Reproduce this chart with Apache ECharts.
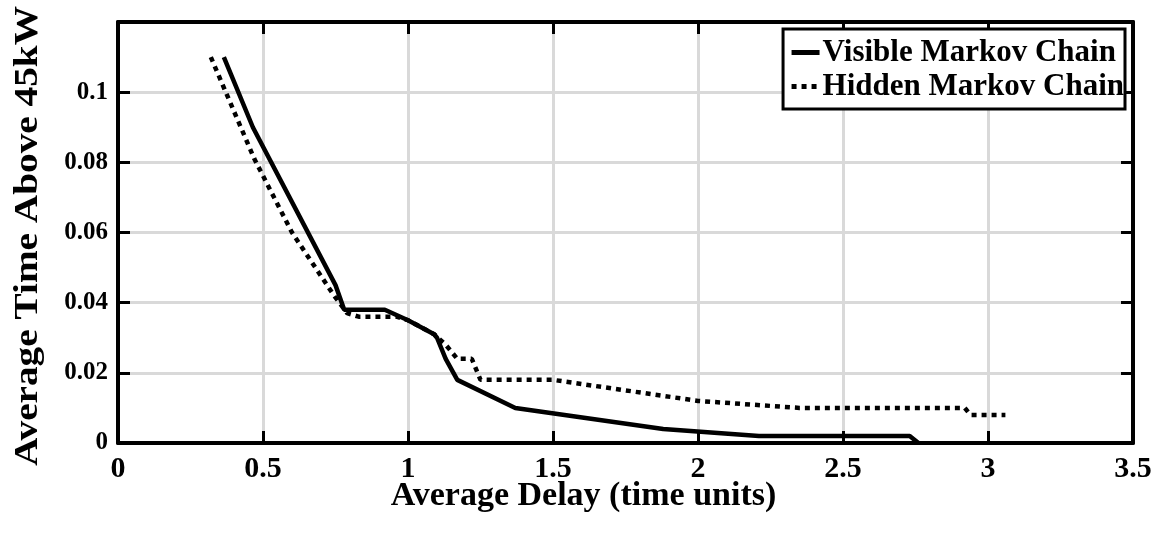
<!DOCTYPE html>
<html>
<head>
<meta charset="utf-8">
<script src="https://cdn.jsdelivr.net/npm/echarts@6/dist/echarts.min.js"></script>
<style>
html,body{margin:0;padding:0;background:#fff;}
#chart{width:1169px;height:542px;}
</style>
</head>
<body>
<div id="chart"></div>
<script>
// Data
const visibleX = [0.365, 0.465, 0.75, 0.78, 0.92, 1.0, 1.09, 1.10, 1.13, 1.17, 1.37, 1.88, 2.21, 2.73, 2.76];
const visibleY = [0.110, 0.090, 0.045, 0.038, 0.038, 0.035, 0.031, 0.030, 0.024, 0.018, 0.010, 0.004, 0.002, 0.002, 0.000];
const hiddenX = [0.32, 0.47, 0.60, 0.745, 0.79, 0.83, 0.96, 1.0, 1.09, 1.13, 1.17, 1.22, 1.25, 1.50, 2.00, 2.35, 2.92, 2.94, 3.06];
const hiddenY = [0.110, 0.081, 0.060, 0.042, 0.037, 0.036, 0.036, 0.035, 0.031, 0.028, 0.024, 0.024, 0.018, 0.018, 0.012, 0.010, 0.010, 0.008, 0.008];
const seriesNames = ['Visible Markov Chain', 'Hidden Markov Chain'];
const xTickValues = [0, 0.5, 1, 1.5, 2, 2.5, 3, 3.5];
const yTickValues = [0, 0.02, 0.04, 0.06, 0.08, 0.1];
const xAxisTitle = 'Average Delay (time units)';
const yAxisTitle = 'Average Time Above 45kW';

const FONT = "'Liberation Serif', 'Times New Roman', serif";
const zip = (xs, ys) => xs.map((x, i) => [x, ys[i]]);
const fmt = v => String(Math.round(v * 1000) / 1000);

const chart = echarts.init(document.getElementById('chart'), null, {renderer: 'canvas'});
const axisLine = () => ({show: true, onZero: false, lineStyle: {color: '#000', width: 4}});
const axisTick = () => ({show: true, inside: true, length: 12, lineStyle: {color: '#000', width: 3}});
chart.setOption({
  animation: false,
  backgroundColor: '#fff',
  textStyle: {fontFamily: FONT, fontWeight: 'bold', color: '#000'},
  grid: {left: 118, right: 36, top: 22, bottom: 99, containLabel: false},
  legend: {
    orient: 'vertical',
    top: 29, right: 44,
    itemWidth: 28, itemHeight: 14, itemGap: 3,
    padding: [8, 1, 7, 6],
    borderColor: '#000', borderWidth: 3, backgroundColor: '#fff',
    itemStyle: {color: 'rgba(0,0,0,0)', borderWidth: 0, opacity: 0},
    lineStyle: {width: 5},
    textStyle: {fontFamily: FONT, fontWeight: 'bold', fontSize: 31, color: '#000', padding: [0, 0, 0, -2]},
    data: seriesNames
  },
  graphic: [{
    type: 'text', x: 28, y: 236, rotation: Math.PI / 2, scaleX: 1.19, scaleY: 1,
    style: {text: yAxisTitle, font: "bold 33px " + FONT, fill: '#000', textAlign: 'center', textVerticalAlign: 'middle'}
  }],
  xAxis: [{
    type: 'value', min: 0, max: 3.5, interval: 0.5,
    axisLine: axisLine(), axisTick: axisTick(),
    splitLine: {show: true, lineStyle: {color: '#d9d9d9', width: 3}},
    axisLabel: {
      fontFamily: FONT, fontWeight: 'bold', fontSize: 30, color: '#000', margin: 11,
      formatter: v => xTickValues.some(t => Math.abs(t - v) < 1e-9) ? fmt(v) : ''
    },
    name: xAxisTitle, nameLocation: 'middle', nameGap: 36, nameMoveOverlap: false,
    nameTextStyle: {fontFamily: FONT, fontWeight: 'bold', fontSize: 34, color: '#000', padding: [0, 84, 0, 0], verticalAlign: 'top'}
  }, {
    type: 'value', position: 'top', min: 0, max: 3.5, interval: 0.5,
    axisLine: axisLine(), axisTick: axisTick(), axisLabel: {show: false}, splitLine: {show: false}
  }],
  yAxis: [{
    type: 'value', min: 0, max: 0.12, interval: 0.02,
    axisLine: axisLine(), axisTick: axisTick(),
    splitLine: {show: true, lineStyle: {color: '#d9d9d9', width: 3}},
    axisLabel: {
      fontFamily: FONT, fontWeight: 'bold', fontSize: 25, color: '#000', margin: 10,
      formatter: v => yTickValues.some(t => Math.abs(t - v) < 1e-9) ? fmt(v) : ''
    }
  }, {
    type: 'value', position: 'right', min: 0, max: 0.12, interval: 0.02,
    axisLine: axisLine(), axisTick: axisTick(), axisLabel: {show: false}, splitLine: {show: false}
  }],
  series: [{
    name: seriesNames[0], type: 'line', symbol: 'none', z: 3,
    data: zip(visibleX, visibleY),
    lineStyle: {color: '#000', width: 4.5, type: 'solid'},
    itemStyle: {color: '#000'}
  }, {
    name: seriesNames[1], type: 'line', symbol: 'none', z: 2,
    data: zip(hiddenX, hiddenY),
    lineStyle: {color: '#000', width: 4.5, type: [5, 5], cap: 'butt'},
    itemStyle: {color: '#000'}
  }]
});
</script>
</body>
</html>
